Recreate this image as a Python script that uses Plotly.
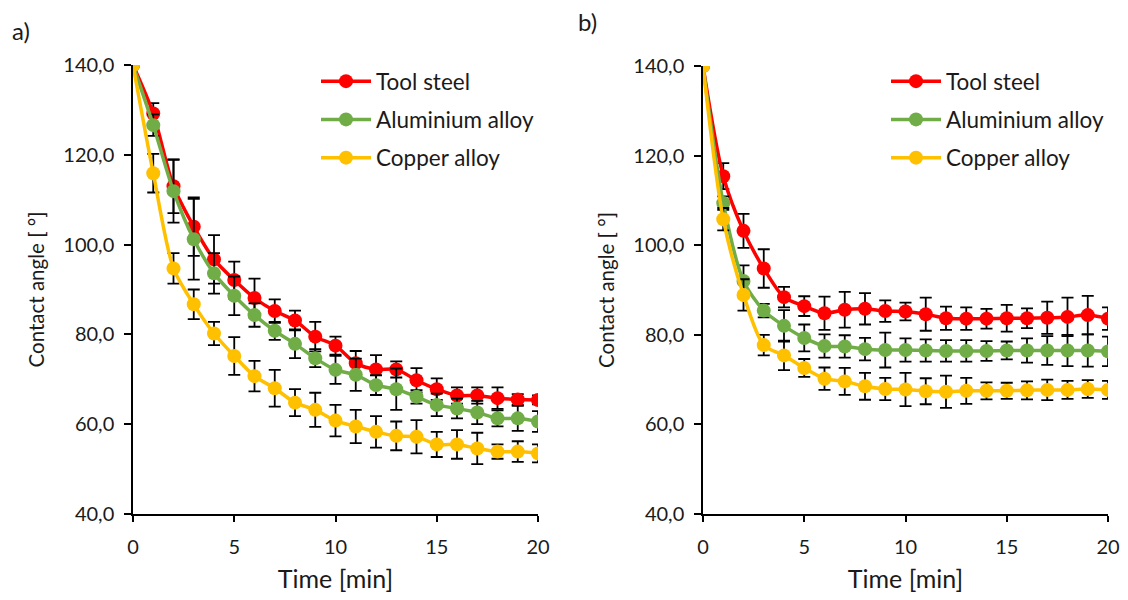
import plotly.graph_objects as go

time = list(range(21))
series_names = ["Tool steel", "Aluminium alloy", "Copper alloy"]
colors = ["#FF0000", "#70AD47", "#FFC000"]

a_tool = [140.0, 129.2, 113.0, 104.0, 96.7, 92.1, 88.1, 85.2, 83.1, 79.5, 77.5, 73.6, 72.2, 72.2, 69.8, 67.8, 66.4, 66.4, 65.8, 65.5, 65.4]
a_tool_err = [0, 2.3, 6.0, 6.5, 5.4, 4.1, 4.3, 2.6, 2.2, 3.3, 2.0, 2.7, 3.2, 1.8, 2.7, 2.4, 1.8, 1.8, 2.4, 1.2, 1.0]
a_alu = [140.0, 126.6, 111.9, 101.2, 93.6, 88.6, 84.3, 80.8, 77.9, 74.7, 72.1, 71.0, 68.7, 67.8, 66.1, 64.3, 63.5, 62.6, 61.3, 61.3, 60.6]
a_alu_err = [0, 2.4, 7.0, 9.0, 4.5, 4.3, 2.6, 2.0, 3.2, 2.0, 3.1, 3.6, 2.2, 4.6, 1.5, 2.5, 2.2, 2.6, 1.8, 2.8, 2.3]
a_cu = [140.0, 115.9, 94.7, 86.7, 80.2, 75.2, 70.7, 68.0, 64.8, 63.2, 60.8, 59.5, 58.3, 57.4, 57.2, 55.5, 55.5, 54.6, 53.9, 53.9, 53.5]
a_cu_err = [0, 4.3, 3.4, 3.3, 2.6, 4.2, 3.4, 4.1, 3.0, 3.8, 3.5, 3.7, 3.5, 3.2, 3.7, 2.8, 3.2, 3.5, 1.6, 2.3, 2.0]

b_tool = [140.0, 115.4, 103.2, 94.8, 88.4, 86.4, 84.8, 85.6, 85.8, 85.3, 85.2, 84.6, 83.7, 83.6, 83.6, 83.7, 83.7, 83.8, 84.0, 84.4, 83.6]
b_tool_err = [0, 2.9, 3.8, 4.3, 2.3, 2.2, 3.7, 4.0, 3.5, 2.4, 2.0, 3.7, 2.6, 2.5, 2.2, 3.0, 2.2, 3.6, 4.3, 4.3, 2.5]
b_alu = [140.0, 109.4, 92.0, 85.4, 82.0, 79.3, 77.5, 77.4, 76.8, 76.6, 76.6, 76.5, 76.4, 76.4, 76.4, 76.5, 76.5, 76.5, 76.5, 76.5, 76.3]
b_alu_err = [0, 1.5, 3.5, 1.5, 3.5, 3.0, 2.6, 2.5, 2.5, 3.9, 2.6, 2.5, 2.4, 2.4, 2.2, 2.0, 2.7, 3.2, 3.5, 3.6, 3.3]
b_cu = [140.0, 105.8, 88.9, 77.7, 75.4, 72.6, 70.2, 69.6, 68.5, 67.9, 67.8, 67.4, 67.3, 67.5, 67.5, 67.5, 67.6, 67.7, 67.7, 67.9, 67.7]
b_cu_err = [0, 2.5, 3.5, 2.3, 3.3, 2.0, 2.5, 3.0, 3.0, 2.5, 3.7, 2.9, 3.6, 2.9, 1.9, 1.8, 2.0, 2.3, 2.0, 2.0, 2.0]

y_ticks = [40, 60, 80, 100, 120, 140]
x_ticks = [0, 5, 10, 15, 20]
panel_labels = ["a)", "b)"]
x_title = "Time [min]"
y_title = "Contact angle [ °]"

FONT = "Lato, Carlito, Calibri, sans-serif"
TXT = "#1a1a1a"

panels = [
    (a_tool, a_tool_err, a_alu, a_alu_err, a_cu, a_cu_err),
    (b_tool, b_tool_err, b_alu, b_alu_err, b_cu, b_cu_err),
]

fig = go.Figure()
for p, vals in enumerate(panels):
    xa = "x" if p == 0 else "x2"
    ya = "y" if p == 0 else "y2"
    lg = "legend" if p == 0 else "legend2"
    for i in range(3):
        y = vals[2 * i]
        e = vals[2 * i + 1]
        fig.add_trace(go.Scatter(
            x=time, y=y, xaxis=xa, yaxis=ya,
            name=series_names[i], legend=lg, legendgroup=f"{p}-{i}",
            mode="lines+markers",
            line=dict(color=colors[i], width=3.5, shape="spline", smoothing=0.8),
            marker=dict(color=colors[i], size=14),
            error_y=dict(type="data", array=e, visible=True, color="black",
                         thickness=1.8, width=6),
        ))

axis_common = dict(
    showline=True, linecolor="black", linewidth=1.5,
    ticks="outside", tickcolor="black", tickwidth=1.5,
    showgrid=False, zeroline=False, automargin=False,
    tickfont=dict(family=FONT, size=20, color=TXT),
)

x_common = dict(range=[0, 20], tickvals=x_ticks, ticklen=6, ticklabelstandoff=8,
                title=dict(text=x_title, standoff=14,
                           font=dict(family=FONT, size=25, color=TXT)),
                **axis_common)
y_common = dict(range=[40, 140], tickvals=y_ticks, tickformat=".1f", ticklen=7,
                ticklabelstandoff=6,
                title=dict(text=y_title, standoff=13,
                           font=dict(family=FONT, size=20.5, color=TXT)),
                **axis_common)

leg_common = dict(xanchor="left", yanchor="top", bgcolor="rgba(0,0,0,0)",
                  tracegroupgap=6, itemwidth=50, traceorder="grouped",
                  font=dict(family=FONT, size=22.5, color=TXT))

fig.update_layout(
    template="none",
    width=1128, height=600,
    margin=dict(l=0, r=0, t=0, b=0),
    paper_bgcolor="white", plot_bgcolor="white",
    separators=", ",
    showlegend=True,
    xaxis=dict(domain=[133 / 1128, 538 / 1128], anchor="y", **x_common),
    yaxis=dict(domain=[86 / 600, 535 / 600], anchor="x", **y_common),
    xaxis2=dict(domain=[703 / 1128, 1108 / 1128], anchor="y2", **x_common),
    yaxis2=dict(domain=[86 / 600, 534 / 600], anchor="x2", **y_common),
    legend=dict(x=316 / 1128, y=1 - 60 / 600, **leg_common),
    legend2=dict(x=886 / 1128, y=1 - 60 / 600, **leg_common),
    annotations=[
        dict(text=panel_labels[0], x=10 / 1128, y=1 - 30 / 600, xref="paper", yref="paper",
             showarrow=False, xanchor="left", yanchor="middle",
             font=dict(family=FONT, size=24, color=TXT)),
        dict(text=panel_labels[1], x=576 / 1128, y=1 - 22 / 600, xref="paper", yref="paper",
             showarrow=False, xanchor="left", yanchor="middle",
             font=dict(family=FONT, size=24, color=TXT)),
    ],
)

fig.write_html("out.html")
